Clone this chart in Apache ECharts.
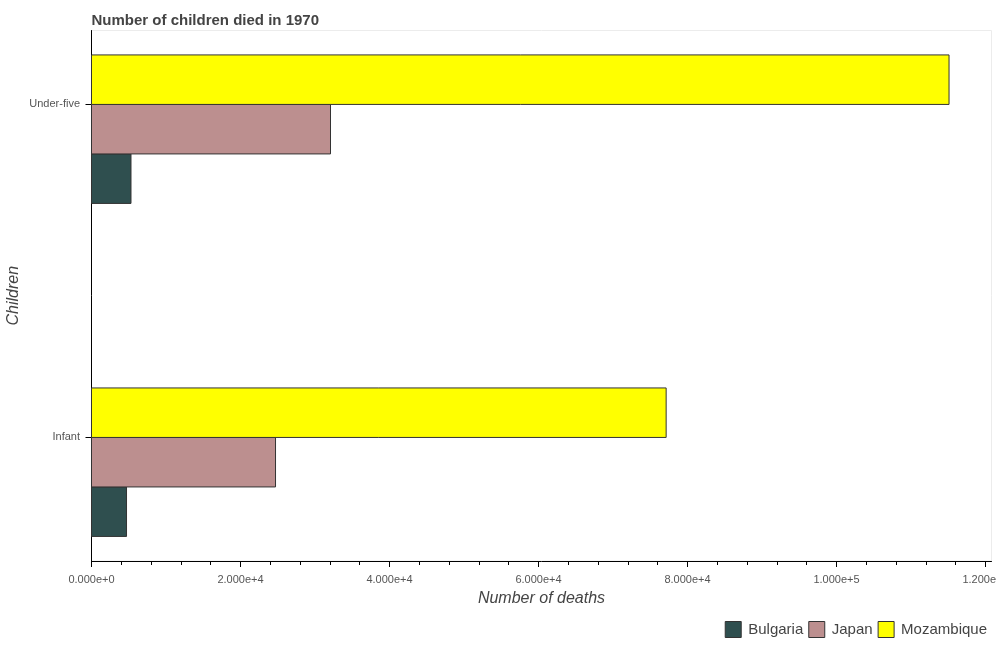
<!DOCTYPE html>
<html>
<head>
<meta charset="utf-8">
<style>html,body{margin:0;padding:0;background:#fff}#c{width:996px;height:650px}</style>
<script src="https://cdn.jsdelivr.net/npm/echarts@6/dist/echarts.min.js"></script>
</head>
<body>
<div id="c"></div>
<script>
const categories = ['Infant', 'Under-five'];
const bulgaria = [4700, 5300];
const japan = [24700, 32080];
const mozambique = [77130, 115100];
const seriesNames = ['Bulgaria', 'Japan', 'Mozambique'];
const seriesColors = ['#2f4f4f', '#bc8f8f', '#ffff00'];
const seriesValues = [bulgaria, japan, mozambique];
const majorTicks = [0, 20000, 40000, 60000, 80000, 100000, 120000];
const minorTicks = [4000, 8000, 12000, 16000, 24000, 28000, 32000, 36000, 44000, 48000, 52000, 56000, 64000, 68000, 72000, 76000, 84000, 88000, 92000, 96000, 104000, 108000, 112000, 116000];
// slot of each series around the category tick, in bar heights (Mozambique above the tick)
const slots = [1, 0, -1];
const BAR_H = 49.5;

const chart = echarts.init(document.getElementById('c'), null, {renderer: 'canvas'});
const font = 'Liberation Sans, Arial, sans-serif';

function makeSeries(i) {
  return {
    type: 'custom',
    name: seriesNames[i],
    coordinateSystem: 'cartesian2d',
    xAxisIndex: 0,
    yAxisIndex: 0,
    itemStyle: {color: seriesColors[i], borderColor: '#333', borderWidth: 1},
    encode: {x: 1, y: 0},
    data: seriesValues[i].map((v, k) => [k, v]),
    renderItem: function (params, api) {
      const end = api.coord([api.value(1), api.value(0)]);
      const start = api.coord([0, api.value(0)]);
      return {
        type: 'rect',
        shape: {x: start[0], y: end[1] + slots[i] * BAR_H, width: end[0] - start[0], height: BAR_H},
        style: {fill: seriesColors[i], stroke: '#333', lineWidth: 1}
      };
    }
  };
}

chart.setOption({
  animation: false,
  backgroundColor: '#fff',
  title: {
    text: 'Number of children died in 1970', left: 86.5, top: 8,
    textStyle: {fontFamily: font, fontSize: 15, fontWeight: 'bold', color: '#444'}
  },
  legend: {
    right: 4, top: 616, itemWidth: 16, itemHeight: 16, itemGap: 5, icon: 'rect',
    data: seriesNames.map((n, i) => ({name: n, itemStyle: {color: seriesColors[i], borderColor: '#333', borderWidth: 1}})),
    textStyle: {fontFamily: font, fontSize: 15, color: '#444', padding: [0, 0, 0, 2]}
  },
  grid: {left: 91.5, top: 30.5, width: 900, height: 530.5, outerBoundsMode: 'none', show: true, borderColor: '#ececec', borderWidth: 1, backgroundColor: '#fff'},
  xAxis: [{
    type: 'value', min: 0, max: 120800, interval: 20000, position: 'bottom',
    name: 'Number of deaths', nameLocation: 'middle', nameGap: 30,
    nameTextStyle: {fontFamily: font, fontSize: 16, fontStyle: 'italic', color: '#444'},
    axisLine: {show: true, onZero: false, lineStyle: {color: '#000', width: 1}},
    axisTick: {show: true, length: 6, customValues: majorTicks, lineStyle: {color: '#000'}},
    splitLine: {show: false},
    axisLabel: {fontFamily: font, fontSize: 11, color: '#555', margin: 13, customValues: majorTicks,
      hideOverlap: false, formatter: v => v.toExponential(3)}
  }, {
    type: 'value', min: 0, max: 120800, position: 'bottom',
    axisLine: {show: false, onZero: false},
    axisTick: {show: true, length: 4, customValues: minorTicks, lineStyle: {color: '#000'}},
    axisLabel: {show: false},
    splitLine: {show: false}
  }],
  yAxis: {
    type: 'value', min: -0.371, max: 1.222,
    name: 'Children', nameLocation: 'middle', nameGap: 70, nameMoveOverlap: false,
    nameTextStyle: {fontFamily: font, fontSize: 16, fontStyle: 'italic', color: '#444'},
    axisLine: {show: true, onZero: false, lineStyle: {color: '#000', width: 1}},
    axisTick: {show: true, length: 6, customValues: [0, 1], lineStyle: {color: '#000'}},
    splitLine: {show: false},
    axisLabel: {fontFamily: font, fontSize: 11, color: '#555', margin: 11.5, customValues: [0, 1],
      formatter: v => categories[v]}
  },
  series: [0, 1, 2].map(makeSeries)
});
</script>
</body>
</html>
